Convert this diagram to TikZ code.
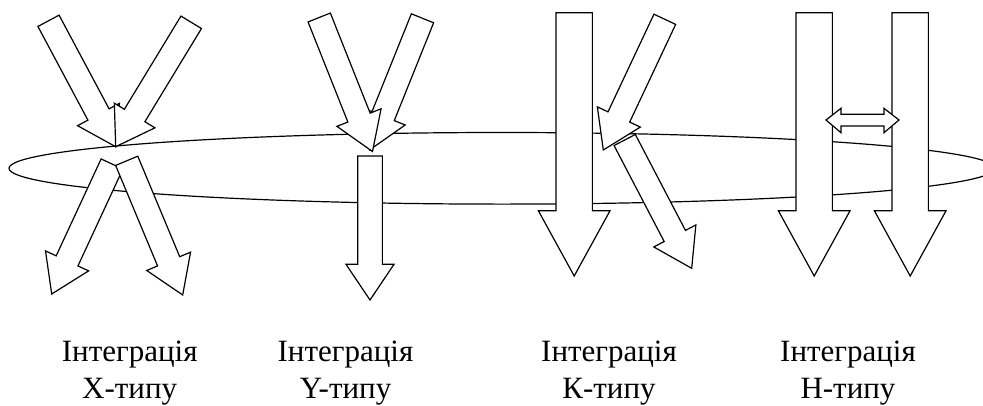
\documentclass[tikz,border=0pt]{standalone}
\usepackage{fontspec}
\setmainfont{Liberation Serif}
\tikzset{
  blockarrow/.style={draw=black, fill=white, line width=1.2pt, line join=miter},
  ringline/.style={draw=black, line width=1.2pt},
  caption/.style={font=\fontsize{31}{37}\selectfont, anchor=base, inner sep=0pt}
}
% tail x,y ; tip x,y ; shaft width ; head width ; head length (image pixels, y down)
\newcommand\BlockArrow[7]{%
  \pgfmathsetmacro\BAdx{#3-#1}%
  \pgfmathsetmacro\BAdy{#2-#4}%
  \pgfmathsetmacro\BAang{atan2(\BAdy,\BAdx)}%
  \pgfmathsetmacro\BAlen{veclen(\BAdx,\BAdy)}%
  \pgfmathsetmacro\BAneck{\BAlen-#7}%
  \draw[blockarrow, shift={(#1,-#2)}, rotate=\BAang]
    (0,-#5/2) -- (\BAneck,-#5/2) -- (\BAneck,-#6/2) -- (\BAlen,0)
    -- (\BAneck,#6/2) -- (\BAneck,#5/2) -- (0,#5/2) -- cycle;
}
\begin{document}
\begin{tikzpicture}[x=1pt,y=1pt]
\clip (0,0) rectangle (983,-405);
\fill[white] (0,0) rectangle (983,-405);
% ring
\draw[ringline] (502,-168.3) ellipse [x radius=493, y radius=35.8];
% X-type
\BlockArrow{48.5}{20.8}{115.7}{146.7}{24}{47.5}{36.5}
\BlockArrow{191.2}{22.3}{115.7}{146.7}{24}{47.5}{36.5}
\BlockArrow{112}{164}{51.7}{294}{24}{47.5}{36.5}
\BlockArrow{126.7}{160.8}{182.7}{295}{24}{47.5}{36.5}
% Y-type
\BlockArrow{422.5}{18.3}{369.5}{150}{24}{47.5}{36.5}
\BlockArrow{319.2}{17.5}{372.5}{151.5}{24}{47.5}{36.5}
\BlockArrow{370}{156}{370}{300}{24.7}{48}{35.7}
% K-type
\BlockArrow{574.2}{12.7}{574.2}{276}{36.3}{71.7}{65.3}
\BlockArrow{624.7}{140}{691.7}{268.3}{24}{47.5}{36.5}
\BlockArrow{664.8}{19.3}{603.3}{150}{24}{47.5}{36.5}
% H-type
\BlockArrow{814.2}{12.7}{814.2}{276}{36.3}{71.7}{65.3}
\BlockArrow{910.2}{12.7}{910.2}{276}{36.3}{71.7}{65.3}
\draw[blockarrow] (826,-120) -- (841,-108.3) -- (841,-114.3) -- (884,-114.3)
  -- (884,-108.3) -- (899,-120) -- (884,-132.7) -- (884,-126) -- (841,-126)
  -- (841,-132.7) -- cycle;
% captions
\node[caption] (xa) at (129.7,-361) {Інтеграція};
\node[caption] (xb) at (129.7,-398) {X-типу};
\node[caption] (ya) at (345.5,-361) {Інтеграція};
\node[caption] (yb) at (345.5,-398) {Y-типу};
\node[caption] (ka) at (609,-361) {Інтеграція};
\node[caption] (kb) at (609,-398) {К-типу};
\node[caption] (ha) at (848,-361) {Інтеграція};
\node[caption] (hb) at (848,-398) {Н-типу};
\end{tikzpicture}
\end{document}
